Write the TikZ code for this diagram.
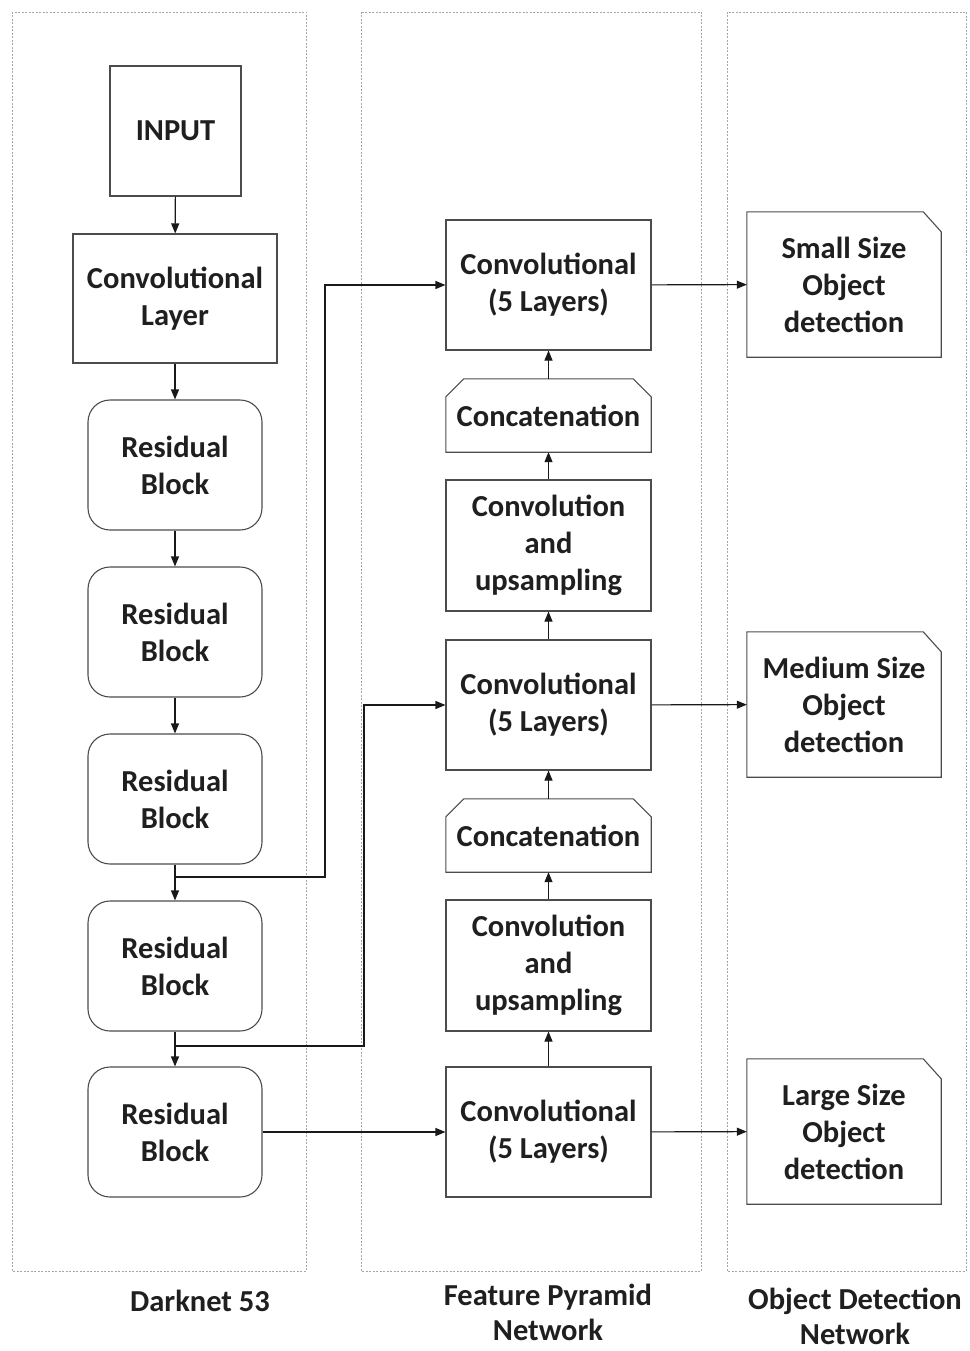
\documentclass[tikz,border=0pt]{standalone}
\usepackage{fontspec}
\setmainfont{Carlito}
\usetikzlibrary{arrows.meta}
\begin{document}
\begin{tikzpicture}[x=1pt,y=-1pt,
  every node/.style={font=\fontsize{30.5}{37}\selectfont\bfseries, text=black!88, align=center, inner sep=0pt},
  box/.style={draw=black!70, line width=1.1pt, minimum width=#1, minimum height=130pt},
  box/.default=205pt,
  rbox/.style={box=174pt, rounded corners=22pt},
  plain/.style={draw=none, minimum width=205pt, minimum height=73pt},
  detect/.style={draw=none, minimum width=194pt, minimum height=145pt},
  panel/.style={draw=black!35, line width=0.6pt, dash pattern=on 2pt off 1.5pt},
  arr/.style={draw=black!90, line width=1.1pt, -{Triangle[length=10pt,width=8pt]}},
  caption/.style={font=\fontsize{30.5}{35}\selectfont\bfseries}
]
\useasboundingbox (0,0) rectangle (969,1351);

% column frames
\draw[panel] (12,12) rectangle (306,1271);
\draw[panel] (361,12) rectangle (701,1271);
\draw[panel] (727,12) rectangle (966,1271);

% Darknet 53 backbone
\node[box=131pt, minimum height=130pt] (in) at (175.5,131) {INPUT};
\node[box=204pt, minimum height=129pt] (cl) at (175,298.5) {Convolutional\\Layer};
\node[rbox] (r1) at (175,465) {Residual\\Block};
\node[rbox] (r2) at (175,632) {Residual\\Block};
\node[rbox] (r3) at (175,799) {Residual\\Block};
\node[rbox] (r4) at (175,966) {Residual\\Block};
\node[rbox] (r5) at (175,1132) {Residual\\Block};

% Feature pyramid
\node[box] (c1) at (548.5,285) {Convolutional\\(5 Layers)};
\node[plain] (k1) at (548.5,415.5) {Concatenation};
\node[box, minimum height=131pt] (u1) at (548.5,545.5) {Convolution\\and\\upsampling};
\node[box] (c2) at (548.5,705) {Convolutional\\(5 Layers)};
\node[plain] (k2) at (548.5,835.5) {Concatenation};
\node[box, minimum height=131pt] (u2) at (548.5,965.5) {Convolution\\and\\upsampling};
\node[box] (c3) at (548.5,1132) {Convolutional\\(5 Layers)};

% concatenation outlines with clipped upper corners
\foreach \k in {k1,k2}{
  \draw[black!70, line width=1.1pt] (\k.south west) -- ([yshift=-18pt]\k.north west)
    -- ([xshift=18pt]\k.north west) -- ([xshift=-18pt]\k.north east)
    -- ([yshift=-18pt]\k.north east) -- (\k.south east) -- cycle;
}

% Detection heads
\node[detect] (d1) at (844,284.5) {Small Size\\Object\\detection};
\node[detect] (d2) at (844,704.5) {Medium Size\\Object\\detection};
\node[detect] (d3) at (844,1131.5) {Large Size\\Object\\detection};
\foreach \d in {d1,d2,d3}{
  \draw[black!70, line width=1.1pt] (\d.south west) -- (\d.north west)
    -- ([xshift=-18pt]\d.north east) -- ([yshift=-20pt]\d.north east)
    -- (\d.south east) -- cycle;
}

% backbone flow
\draw[arr] (in) -- (cl);
\draw[arr] (cl) -- (r1);
\draw[arr] (r1) -- (r2);
\draw[arr] (r2) -- (r3);
\draw[arr] (r3) -- (r4);
\draw[arr] (r4) -- (r5);

% skip connections into the pyramid
\coordinate (t1) at (175,877);
\coordinate (t2) at (175,1046);
\draw[arr] (t1) -- (325,877) |- (c1.west);
\draw[arr] (t2) -- (364,1046) |- (c2.west);
\draw[arr] (r5) -- (c3);

% pyramid flow
\draw[arr] (c3) -- (u2);
\draw[arr] (u2) -- (k2);
\draw[arr] (k2) -- (c2);
\draw[arr] (c2) -- (u1);
\draw[arr] (u1) -- (k1);
\draw[arr] (k1) -- (c1);

% outputs
\draw[arr] (c1) -- (d1);
\draw[arr] (c2) -- (d2);
\draw[arr] (c3) -- (d3);

% column captions
\node[caption] (n1) at (200,1301) {Darknet 53};
\node[caption] (n2) at (548,1312) {Feature Pyramid\\Network};
\node[caption] (n3) at (855,1316) {Object Detection\\Network};
\end{tikzpicture}
\end{document}
